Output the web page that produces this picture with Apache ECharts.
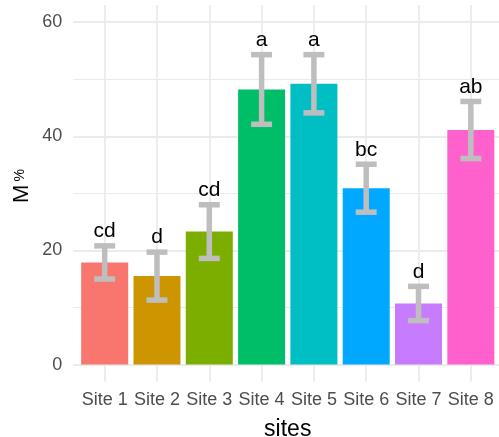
<!DOCTYPE html>
<html>
<head>
<meta charset="utf-8">
<script src="https://cdn.jsdelivr.net/npm/echarts@6/dist/echarts.min.js"></script>
<style>
  html, body { margin: 0; padding: 0; background: #ffffff; }
  #chart { width: 499px; height: 437px; }
</style>
</head>
<body>
<div id="chart"></div>
<script>
// Mean M % per site with standard error and significance letters
const sites = ['Site 1', 'Site 2', 'Site 3', 'Site 4', 'Site 5', 'Site 6', 'Site 7', 'Site 8'];
const means = [17.9, 15.5, 23.3, 48.2, 49.2, 30.9, 10.7, 41.1];
const ses = [2.9, 4.2, 4.7, 6.1, 5.1, 4.2, 3.0, 5.0];
const letters = ['cd', 'd', 'cd', 'a', 'a', 'bc', 'd', 'ab'];
const colors = ['#F8766D', '#CD9600', '#7CAE00', '#00BE67', '#00BFC4', '#00A9FF', '#C77CFF', '#FF61CC'];
const yTicks = [0, 20, 40, 60];
const yMinorTicks = [10, 30, 50];

const FONT = "'Liberation Sans', Arial, sans-serif";
const GRID_COLOR = '#ebebeb';
const positions = sites.map((_, i) => i + 1);

const chart = echarts.init(document.getElementById('chart'), null, { renderer: 'canvas' });

// panel gridlines (drawn behind the bars)
const gridLines = [];
yTicks.forEach(v => gridLines.push({ yAxis: v, lineStyle: { width: 1.8 } }));
yMinorTicks.forEach(v => gridLines.push({ yAxis: v, lineStyle: { width: 1.1 } }));
positions.forEach(p => gridLines.push({ xAxis: p, lineStyle: { width: 1.8 } }));

const option = {
  animation: false,
  backgroundColor: '#ffffff',
  grid: {
    left: 73.3, top: 5, width: 428.9, height: 376.7,
    containLabel: false,
    outerBoundsMode: 'none'
  },
  xAxis: {
    type: 'value',
    min: 0.4,
    max: 8.6,
    axisLine: { show: false },
    axisTick: { show: false },
    splitLine: { show: false },
    axisLabel: {
      customValues: positions,
      formatter: v => sites[Math.round(v) - 1] || '',
      color: '#4d4d4d',
      fontSize: 18,
      fontFamily: FONT,
      margin: 9
    },
    name: 'sites',
    nameLocation: 'middle',
    nameGap: 36,
    nameTextStyle: { color: '#000000', fontSize: 23, fontFamily: FONT }
  },
  yAxis: {
    type: 'value',
    min: -3,
    max: 63,
    axisLine: { show: false },
    axisTick: { show: false },
    splitLine: { show: false },
    axisLabel: {
      customValues: yTicks,
      color: '#4d4d4d',
      fontSize: 18,
      fontFamily: FONT,
      margin: 11
    }
  },
  graphic: [{
    type: 'text',
    x: 22,
    y: 186,
    rotation: Math.PI / 2,
    style: {
      text: '{m|M} {p|%}',
      align: 'center',
      verticalAlign: 'middle',
      rich: {
        m: { fontSize: 22, fontFamily: FONT, fill: '#000000', color: '#000000' },
        p: { fontSize: 14, fontFamily: FONT, fill: '#000000', color: '#000000', padding: [0, 0, 3, 0] }
      }
    }
  }],
  series: [
    {
      type: 'line',
      data: [],
      z: 0,
      silent: true,
      markLine: {
        z: 0,
        silent: true,
        symbol: 'none',
        animation: false,
        label: { show: false },
        lineStyle: { color: GRID_COLOR, type: 'solid', width: 1.8 },
        data: gridLines
      }
    },
    {
      type: 'bar',
      z: 2,
      barWidth: 47,
      data: positions.map((p, i) => ({ value: [p, means[i]], itemStyle: { color: colors[i] } }))
    },
    {
      type: 'custom',
      z: 3,
      data: positions.map((p, i) => [p, means[i] - ses[i], means[i] + ses[i], i]),
      renderItem: function (params, api) {
        const x = api.value(0);
        const lo = api.coord([x, api.value(1)]);
        const hi = api.coord([x, api.value(2)]);
        const half = api.size([0.4, 0])[0] / 2;
        const idx = api.value(3);
        const style = { stroke: '#bebebe', lineWidth: 5.5, lineCap: 'butt' };
        return {
          type: 'group',
          children: [
            { type: 'line', shape: { x1: lo[0], y1: lo[1], x2: hi[0], y2: hi[1] }, style: style },
            { type: 'line', shape: { x1: lo[0] - half, y1: lo[1], x2: lo[0] + half, y2: lo[1] }, style: style },
            { type: 'line', shape: { x1: hi[0] - half, y1: hi[1], x2: hi[0] + half, y2: hi[1] }, style: style },
            {
              type: 'text',
              x: hi[0],
              y: hi[1] - 4,
              style: {
                text: letters[idx],
                fill: '#000000',
                fontSize: 21,
                fontFamily: FONT,
                align: 'center',
                verticalAlign: 'bottom'
              }
            }
          ]
        };
      }
    }
  ]
};

chart.setOption(option);
</script>
</body>
</html>
